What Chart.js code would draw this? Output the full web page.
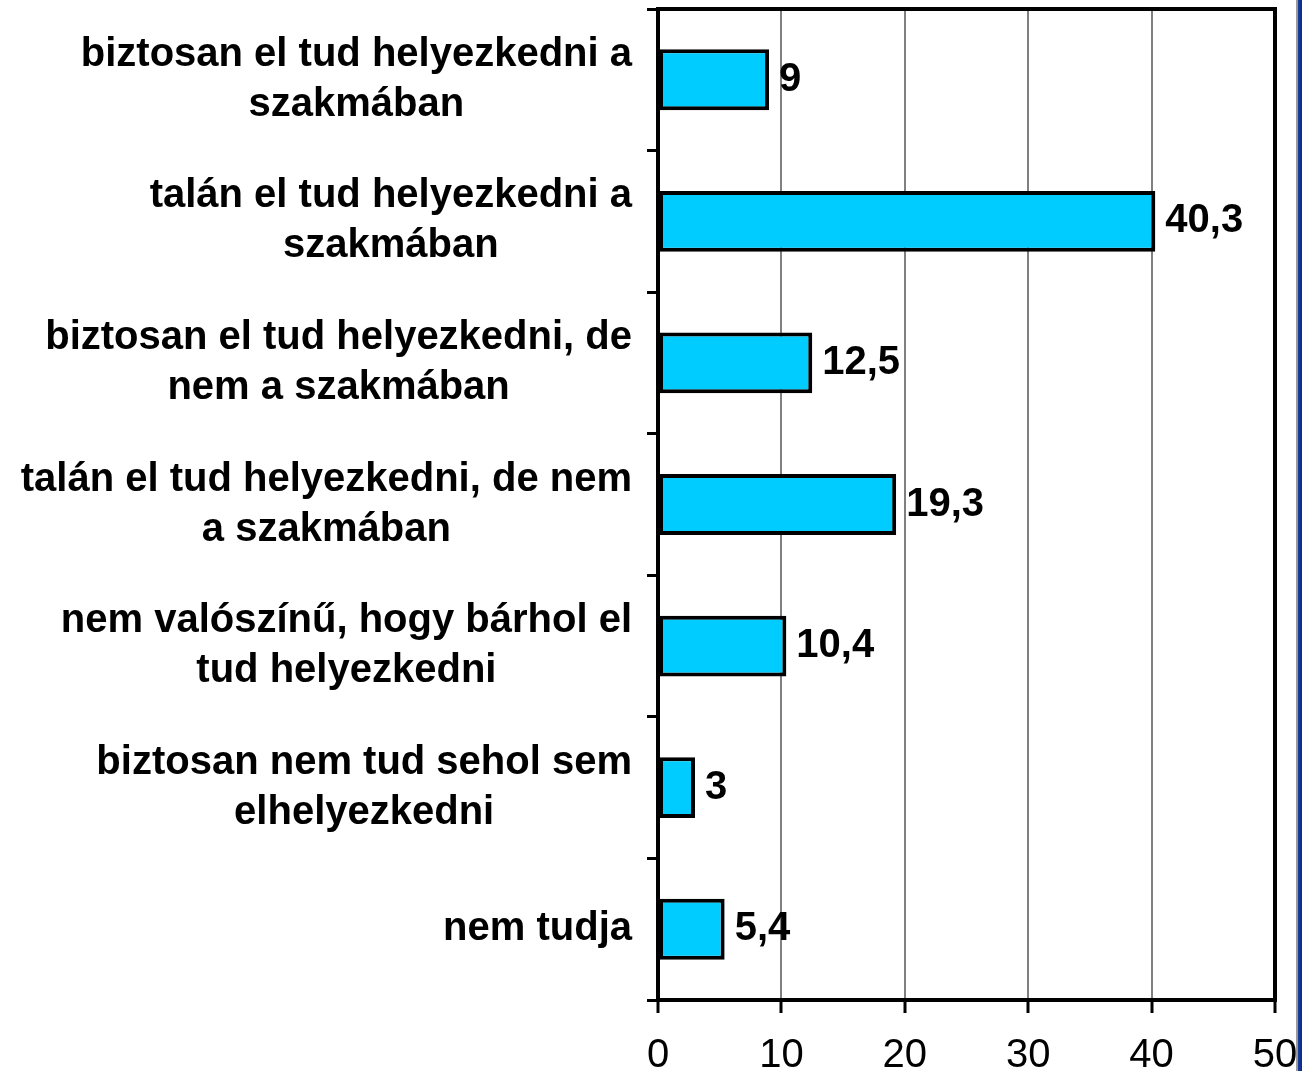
<!DOCTYPE html>
<html>
<head>
<meta charset="utf-8">
<script src="https://cdn.jsdelivr.net/npm/chart.js@4.4.1/dist/chart.umd.min.js"></script>
<style>
  html, body { margin: 0; padding: 0; background: #fff; overflow: hidden; }
  #wrap { position: relative; width: 1302px; height: 1071px; }
  #edge { position: absolute; left: 1296px; top: 0; width: 6px; height: 1071px;
          background: linear-gradient(to right, #9a9a9a 0, #9a9a9a 2px, #1f3f9f 2px, #0a2a8a 6px); }
</style>
</head>
<body>
<div id="wrap">
  <canvas id="myChart" width="1302" height="1071"></canvas>
  <div id="edge"></div>
</div>
<script>
const categories = [
  ['biztosan el tud helyezkedni a', 'szakmában'],
  ['talán el tud helyezkedni a', 'szakmában'],
  ['biztosan el tud helyezkedni, de', 'nem a szakmában'],
  ['talán el tud helyezkedni, de nem', 'a szakmában'],
  ['nem valószínű, hogy bárhol el', 'tud helyezkedni'],
  ['biztosan nem tud sehol sem', 'elhelyezkedni'],
  ['nem tudja']
];
const values = [9, 40.3, 12.5, 19.3, 10.4, 3, 5.4];
const xTicks = [0, 10, 20, 30, 40, 50];

const labelFont = 'bold 40px "Liberation Sans", Arial, sans-serif';

function setLabelText(ctx) {
  ctx.font = labelFont;
  ctx.fillStyle = '#000';
  ctx.textAlign = 'left';
  ctx.textBaseline = 'middle';
}

// category labels: each block centred on its longest line, block right-aligned
const catLabels = {
  id: 'catLabels',
  afterDraw(chart) {
    const ctx = chart.ctx;
    const y = chart.scales.y;
    const right = chart.chartArea.left - 26;
    ctx.save();
    setLabelText(ctx);
    categories.forEach((lines, i) => {
      const widths = lines.map(l => ctx.measureText(l).width);
      const w = Math.max(...widths);
      const cx = right - w / 2;
      const cy = y.getPixelForValue(i);
      lines.forEach((l, j) => {
        ctx.fillText(l, cx - widths[j] / 2, cy + (j - (lines.length - 1) / 2) * 50);
      });
    });
    ctx.restore();
  }
};

// value labels next to bar ends
const valueLabels = {
  id: 'valueLabels',
  afterDatasetsDraw(chart) {
    const ctx = chart.ctx;
    const meta = chart.getDatasetMeta(0);
    ctx.save();
    setLabelText(ctx);
    meta.data.forEach((bar, i) => {
      ctx.fillText(String(values[i]).replace('.', ','), bar.x + 10, bar.y);
    });
    ctx.restore();
  }
};

// black frame round the plot area
const frame = {
  id: 'frame',
  afterDatasetsDraw(chart) {
    const a = chart.chartArea;
    const ctx = chart.ctx;
    ctx.save();
    ctx.strokeStyle = '#000';
    ctx.lineWidth = 4;
    ctx.strokeRect(a.left, a.top, a.right - a.left, a.bottom - a.top);
    ctx.restore();
  }
};

const chart = document.getElementById('myChart');
new Chart(chart, {
  type: 'bar',
  data: {
    labels: categories.map(c => c.join(' ')),
    datasets: [{
      data: values,
      backgroundColor: '#00CCFF',
      borderColor: '#000',
      borderWidth: 4,
      borderSkipped: false,
      barPercentage: 0.43,
      categoryPercentage: 1
    }]
  },
  options: {
    indexAxis: 'y',
    responsive: false,
    animation: false,
    layout: { padding: { top: 9, right: 27, left: 0, bottom: 0 } },
    plugins: { legend: { display: false }, tooltip: { enabled: false } },
    scales: {
      x: {
        min: 0,
        max: 50,
        afterBuildTicks: s => { s.ticks = xTicks.map(v => ({ value: v })); },
        afterFit: s => { s.height = 71; s.paddingLeft = 0; s.paddingRight = 0; },
        grid: { color: '#808080', lineWidth: 2, tickColor: '#000', tickLength: 13, tickWidth: 3 },
        border: { display: false },
        ticks: {
          color: '#000',
          padding: 19,
          maxRotation: 0,
          font: { family: '"Liberation Sans", Arial, sans-serif', size: 40 }
        }
      },
      y: {
        afterFit: s => { s.width = 658; },
        grid: { drawOnChartArea: false, offset: true, tickColor: '#000', tickLength: 11, tickWidth: 3 },
        border: { display: false },
        ticks: { display: false }
      }
    }
  },
  plugins: [catLabels, valueLabels, frame]
});
</script>
</body>
</html>
